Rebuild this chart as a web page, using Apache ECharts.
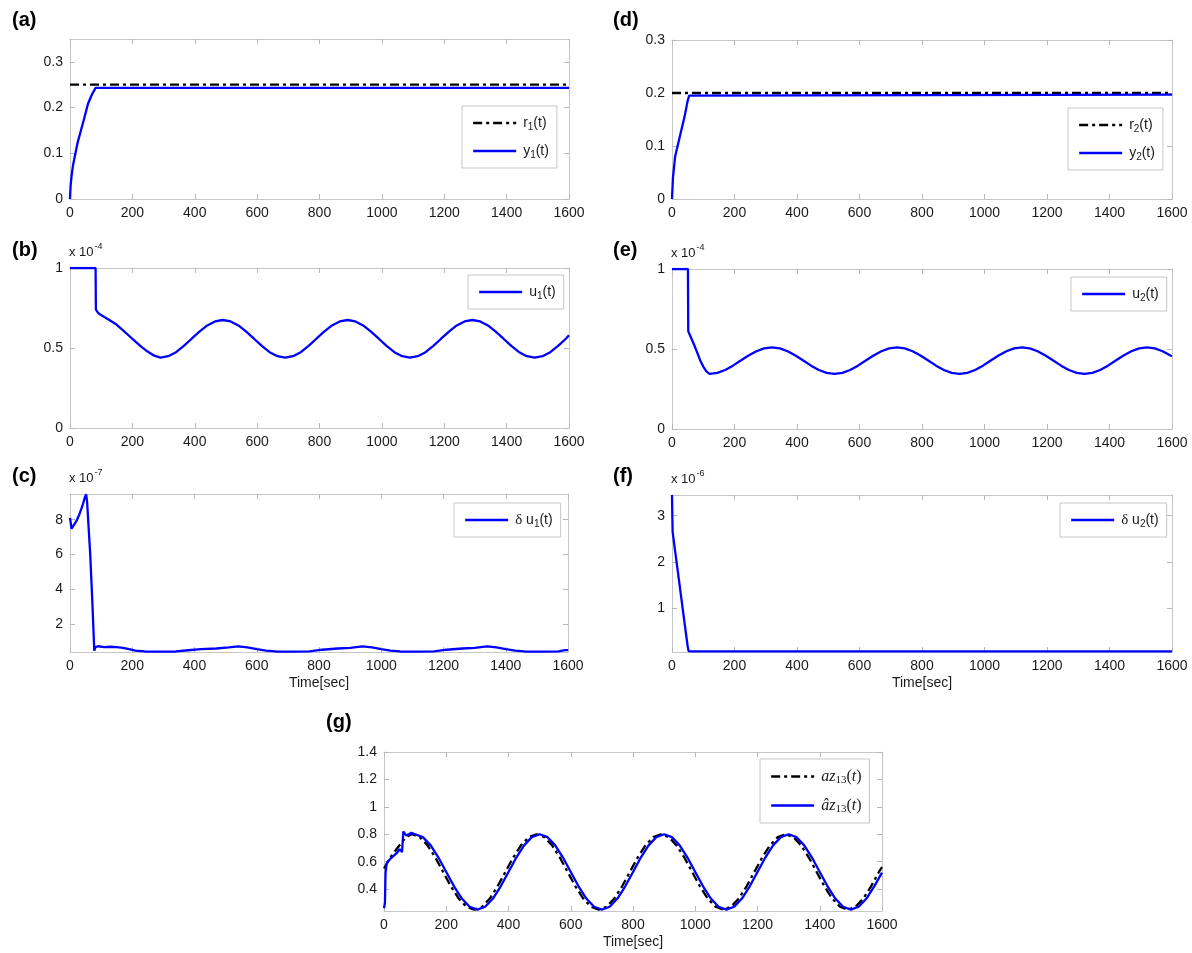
<!DOCTYPE html>
<html>
<head>
<meta charset="utf-8">
<script src="https://cdn.jsdelivr.net/npm/echarts@6/dist/echarts.min.js"></script>
<style>
  html, body { margin: 0; padding: 0; background: #fff; }
  #main { width: 1192px; height: 953px; }
</style>
</head>
<body>
<div id="main"></div>
<script>
// ---- data (time in sec) ----
const xTicks = [0, 200, 400, 600, 800, 1000, 1200, 1400, 1600]

const r1 = [[0, 0.25], [1600, 0.25]]
const y1 = [[0, 0], [2, 0.03], [5, 0.05], [10, 0.075], [15, 0.092], [25, 0.125], [35, 0.15], [45, 0.175],
  [58, 0.209], [70, 0.228], [82, 0.243], [1600, 0.243]]

const r2 = [[0, 0.2], [1600, 0.2]]
const y2 = [[0, 0], [3, 0.04], [10, 0.08], [20, 0.105], [30, 0.13], [40, 0.155], [50, 0.185], [55, 0.195],
  [60, 0.197], [1600, 0.197]]

// x 10^-4
const u1 = [[0, 1], [82, 1], [83, 0.74], [92, 0.715], [110, 0.694], [130, 0.67], [150, 0.645], [170, 0.61],
  [190, 0.575], [210, 0.54], [230, 0.505], [250, 0.476], [270, 0.452], [290, 0.44],
  [315, 0.449], [340, 0.474], [365, 0.513], [390, 0.558], [415, 0.602], [440, 0.641], [465, 0.666], [490, 0.675],
  [515, 0.666], [540, 0.641], [565, 0.602], [590, 0.558], [615, 0.513], [640, 0.474], [665, 0.449], [690, 0.44],
  [715, 0.449], [740, 0.474], [765, 0.513], [790, 0.558], [815, 0.602], [840, 0.641], [865, 0.666], [890, 0.675],
  [915, 0.666], [940, 0.641], [965, 0.602], [990, 0.558], [1015, 0.513], [1040, 0.474], [1065, 0.449], [1090, 0.44],
  [1115, 0.449], [1140, 0.474], [1165, 0.513], [1190, 0.558], [1215, 0.602], [1240, 0.641], [1265, 0.666], [1290, 0.675],
  [1315, 0.666], [1340, 0.641], [1365, 0.602], [1390, 0.558], [1415, 0.513], [1440, 0.474], [1465, 0.449], [1490, 0.44],
  [1515, 0.449], [1540, 0.474], [1565, 0.513], [1590, 0.558], [1600, 0.58]]

// x 10^-4
const u2 = [[0, 1], [51, 1], [52, 0.61], [60, 0.575], [70, 0.53], [80, 0.48], [90, 0.43], [100, 0.39], [110, 0.36], [120, 0.345],
  [145, 0.351], [170, 0.369], [195, 0.396], [220, 0.428], [245, 0.459], [270, 0.486], [295, 0.504], [320, 0.51],
  [345, 0.504], [370, 0.486], [395, 0.459], [420, 0.428], [445, 0.396], [470, 0.369], [495, 0.351], [520, 0.345],
  [545, 0.351], [570, 0.369], [595, 0.396], [620, 0.428], [645, 0.459], [670, 0.486], [695, 0.504], [720, 0.51],
  [745, 0.504], [770, 0.486], [795, 0.459], [820, 0.428], [845, 0.396], [870, 0.369], [895, 0.351], [920, 0.345],
  [945, 0.351], [970, 0.369], [995, 0.396], [1020, 0.428], [1045, 0.459], [1070, 0.486], [1095, 0.504], [1120, 0.51],
  [1145, 0.504], [1170, 0.486], [1195, 0.459], [1220, 0.428], [1245, 0.396], [1270, 0.369], [1295, 0.351], [1320, 0.345],
  [1345, 0.351], [1370, 0.369], [1395, 0.396], [1420, 0.428], [1445, 0.459], [1470, 0.486], [1495, 0.504], [1520, 0.51],
  [1545, 0.504], [1570, 0.486], [1595, 0.459], [1600, 0.455]]

// x 10^-7
const du1 = [[0, 8.1], [5, 7.48], [10, 7.55], [20, 7.9], [30, 8.3], [40, 8.8], [48, 9.3], [52, 9.45], [55, 9.0],
  [65, 6.0], [72, 3.2], [78, 0.5], [82, 0.7], [90, 0.75], [110, 0.7], [130, 0.72], [150, 0.7], [170, 0.65],
  [190, 0.58], [210, 0.5], [240, 0.45], [280, 0.44], [340, 0.45], [380, 0.52], [420, 0.58], [470, 0.62],
  [510, 0.68], [540, 0.74], [570, 0.68], [600, 0.58], [630, 0.5], [660, 0.45], [720, 0.44], [770, 0.46],
  [810, 0.55], [860, 0.62], [900, 0.66], [940, 0.74], [970, 0.68], [1000, 0.58], [1030, 0.5], [1060, 0.45],
  [1120, 0.44], [1170, 0.46], [1210, 0.55], [1260, 0.62], [1300, 0.66], [1340, 0.74], [1370, 0.68], [1400, 0.58],
  [1430, 0.5], [1460, 0.45], [1520, 0.44], [1570, 0.46], [1590, 0.53], [1600, 0.53]]

// x 10^-6
const du2 = [[0, 3.45], [1, 3.0], [2, 2.65], [10, 2.23], [20, 1.72], [30, 1.2], [40, 0.68], [50, 0.17], [53, 0.06],
  [60, 0.055], [1600, 0.055]]

const az13 = [[0, 0.55], [10, 0.59], [20, 0.63], [30, 0.66], [40, 0.69], [50, 0.72], [60, 0.75], [70, 0.775], [80, 0.79], [90, 0.8],
  [115, 0.779], [140, 0.719], [165, 0.63], [190, 0.525], [215, 0.42], [240, 0.331], [265, 0.271], [290, 0.25],
  [315, 0.271], [340, 0.331], [365, 0.42], [390, 0.525], [415, 0.63], [440, 0.719], [465, 0.779], [490, 0.8],
  [515, 0.779], [540, 0.719], [565, 0.63], [590, 0.525], [615, 0.42], [640, 0.331], [665, 0.271], [690, 0.25],
  [715, 0.271], [740, 0.331], [765, 0.42], [790, 0.525], [815, 0.63], [840, 0.719], [865, 0.779], [890, 0.8],
  [915, 0.779], [940, 0.719], [965, 0.63], [990, 0.525], [1015, 0.42], [1040, 0.331], [1065, 0.271], [1090, 0.25],
  [1115, 0.271], [1140, 0.331], [1165, 0.42], [1190, 0.525], [1215, 0.63], [1240, 0.719], [1265, 0.779], [1290, 0.8],
  [1315, 0.779], [1340, 0.719], [1365, 0.63], [1390, 0.525], [1415, 0.42], [1440, 0.331], [1465, 0.271], [1490, 0.25],
  [1515, 0.271], [1540, 0.331], [1565, 0.42], [1590, 0.525], [1600, 0.56]]

const az13Hat = [[0, 0.26], [3, 0.3], [5, 0.52], [8, 0.58], [12, 0.6], [20, 0.62], [30, 0.64], [40, 0.66], [50, 0.69],
  [56, 0.7], [58, 0.67], [62, 0.82], [67, 0.815], [72, 0.79], [78, 0.8], [88, 0.81], [100, 0.8],
  [125, 0.779], [150, 0.719], [175, 0.63], [200, 0.525], [225, 0.42], [250, 0.331], [275, 0.271], [300, 0.25],
  [325, 0.271], [350, 0.331], [375, 0.42], [400, 0.525], [425, 0.63], [450, 0.719], [475, 0.779], [500, 0.8],
  [525, 0.779], [550, 0.719], [575, 0.63], [600, 0.525], [625, 0.42], [650, 0.331], [675, 0.271], [700, 0.25],
  [725, 0.271], [750, 0.331], [775, 0.42], [800, 0.525], [825, 0.63], [850, 0.719], [875, 0.779], [900, 0.8],
  [925, 0.779], [950, 0.719], [975, 0.63], [1000, 0.525], [1025, 0.42], [1050, 0.331], [1075, 0.271], [1100, 0.25],
  [1125, 0.271], [1150, 0.331], [1175, 0.42], [1200, 0.525], [1225, 0.63], [1250, 0.719], [1275, 0.779], [1300, 0.8],
  [1325, 0.779], [1350, 0.719], [1375, 0.63], [1400, 0.525], [1425, 0.42], [1450, 0.331], [1475, 0.271], [1500, 0.25],
  [1525, 0.271], [1550, 0.331], [1575, 0.42], [1600, 0.52]]

// y tick labels per panel
const yTicksA = [0, 0.1, 0.2, 0.3]
const yTicksB = [0, 0.5, 1]
const yTicksC = [2, 4, 6, 8]
const yTicksD = [0, 0.1, 0.2, 0.3]
const yTicksE = [0, 0.5, 1]
const yTicksF = [1, 2, 3]
const yTicksG = [0.4, 0.6, 0.8, 1, 1.2, 1.4]

// ---- layout ----
const FONT = '"Liberation Sans", Arial, Helvetica, sans-serif'
const SERIF = '"Liberation Serif", "DejaVu Serif", serif'
const BORDER = '#c6c6c6'
const BLUE = '#0000ff'
const DASHDOT = [9, 4, 3, 4]

const panels = [
  { label: '(a)', lx: 12, ly: 10, grid: { left: 70, top: 39, width: 499, height: 160 }, yMin: 0, yMax: 0.35, ticks: yTicksA },
  { label: '(b)', lx: 12, ly: 240, grid: { left: 70, top: 268, width: 499, height: 160 }, yMin: 0, yMax: 1, ticks: yTicksB, mult: '-4' },
  { label: '(c)', lx: 12, ly: 466, grid: { left: 70, top: 494, width: 498, height: 158 }, yMin: 0.42, yMax: 9.47, ticks: yTicksC, mult: '-7', time: true },
  { label: '(d)', lx: 613, ly: 10, grid: { left: 672, top: 40, width: 500, height: 159 }, yMin: 0, yMax: 0.3, ticks: yTicksD },
  { label: '(e)', lx: 613, ly: 240, grid: { left: 672, top: 269, width: 500, height: 160 }, yMin: 0, yMax: 1, ticks: yTicksE, mult: '-4' },
  { label: '(f)', lx: 613, ly: 466, grid: { left: 672, top: 495, width: 500, height: 157 }, yMin: 0.04, yMax: 3.45, ticks: yTicksF, mult: '-6', time: true },
  { label: '(g)', lx: 326, ly: 712, grid: { left: 384, top: 752, width: 498, height: 159 }, yMin: 0.24, yMax: 1.4, ticks: yTicksG, time: true }
]

const grids = []
const xAxes = []
const yAxes = []
const titles = []

const tickStyle = { show: true, inside: true, length: 5, lineStyle: { color: '#b8b8b8', width: 1 } }
const lineStyle = { show: true, onZero: false, lineStyle: { color: BORDER, width: 1 } }
const labelStyle = { fontFamily: FONT, fontSize: 14, color: '#1a1a1a', formatter: (v) => String(v) }

panels.forEach((p, i) => {
  grids.push(Object.assign({ containLabel: false }, p.grid))
  // bottom + top x axis
  xAxes.push({
    type: 'value', gridIndex: i, min: 0, max: 1600, interval: 200, position: 'bottom',
    axisLine: lineStyle, axisTick: tickStyle, splitLine: { show: false },
    axisLabel: Object.assign({ margin: 7, customValues: xTicks }, labelStyle),
    name: p.time ? 'Time[sec]' : '', nameLocation: 'middle', nameGap: 24,
    nameTextStyle: { fontFamily: FONT, fontSize: 14, color: '#1a1a1a' }
  })
  xAxes.push({
    type: 'value', gridIndex: i, min: 0, max: 1600, interval: 200, position: 'top',
    axisLine: lineStyle, axisTick: tickStyle, splitLine: { show: false }, axisLabel: { show: false }
  })
  // left + right y axis
  yAxes.push({
    type: 'value', gridIndex: i, min: p.yMin, max: p.yMax, position: 'left',
    axisLine: lineStyle, splitLine: { show: false },
    axisTick: Object.assign({ customValues: p.ticks }, tickStyle),
    axisLabel: Object.assign({ customValues: p.ticks, margin: 7 }, labelStyle)
  })
  yAxes.push({
    type: 'value', gridIndex: i, min: p.yMin, max: p.yMax, position: 'right',
    axisLine: lineStyle, splitLine: { show: false },
    axisTick: Object.assign({ customValues: p.ticks }, tickStyle),
    axisLabel: { show: false }
  })
  titles.push({
    text: p.label, left: p.lx, top: p.ly, padding: 0,
    textStyle: { fontFamily: FONT, fontSize: 20, fontWeight: 'bold', color: '#000' }
  })
  if (p.mult) {
    titles.push({
      text: '{a|x 10}{e|' + p.mult + '}', left: p.grid.left - 1, top: p.grid.top - 22, padding: 0,
      textStyle: {
        fontWeight: 'normal',
        rich: {
          a: { fontFamily: FONT, fontSize: 13, fontWeight: 'normal', color: '#1a1a1a', lineHeight: 13 },
          e: { fontFamily: FONT, fontSize: 9, fontWeight: 'normal', color: '#1a1a1a', lineHeight: 9, padding: [0, 0, 12, 1] }
        }
      }
    })
  }
})

function mkSeries(name, idx, data, color, dash) {
  return {
    name: name, type: 'line', xAxisIndex: idx * 2, yAxisIndex: idx * 2, data: data,
    symbol: 'none', showSymbol: false, smooth: false, color: color,
    lineStyle: { color: color, width: 2.3, type: dash || 'solid' }
  }
}

const series = [
  mkSeries('r1', 0, r1, '#000', DASHDOT),
  mkSeries('y1', 0, y1, BLUE),
  mkSeries('u1', 1, u1, BLUE),
  mkSeries('du1', 2, du1, BLUE),
  mkSeries('r2', 3, r2, '#000', DASHDOT),
  mkSeries('y2', 3, y2, BLUE),
  mkSeries('u2', 4, u2, BLUE),
  mkSeries('du2', 5, du2, BLUE),
  mkSeries('az13', 6, az13, '#000', DASHDOT),
  mkSeries('az13hat', 6, az13Hat, BLUE)
]

const legendText = {
  r1: '{n|r}{s|1}{n|(t)}',
  y1: '{n|y}{s|1}{n|(t)}',
  u1: '{n|u}{s|1}{n|(t)}',
  du1: '{g|δ}{n| u}{s|1}{n|(t)}',
  r2: '{n|r}{s|2}{n|(t)}',
  y2: '{n|y}{s|2}{n|(t)}',
  u2: '{n|u}{s|2}{n|(t)}',
  du2: '{g|δ}{n| u}{s|2}{n|(t)}',
  az13: '{m|az}{k|13}{p|(}{m|t}{p|)}',
  az13hat: '{m|âz}{k|13}{p|(}{m|t}{p|)}'
}

const legendRich = {
  n: { fontFamily: FONT, fontSize: 14, color: '#1a1a1a', lineHeight: 16 },
  s: { fontFamily: FONT, fontSize: 10, color: '#1a1a1a', lineHeight: 10, padding: [8, 0, 0, 0] },
  g: { fontFamily: SERIF, fontSize: 15, color: '#1a1a1a', lineHeight: 16 },
  m: { fontFamily: SERIF, fontStyle: 'italic', fontSize: 16, color: '#1a1a1a', lineHeight: 16 },
  k: { fontFamily: SERIF, fontSize: 11, color: '#1a1a1a', lineHeight: 11, padding: [8, 0, 0, 0] },
  p: { fontFamily: SERIF, fontSize: 16, color: '#1a1a1a', lineHeight: 16 }
}

function mkLegend(names, left, top) {
  return {
    data: names,
    orient: 'vertical', left: left, top: top,
    padding: [8, 8, 8, 10], itemGap: 10, itemWidth: 43, itemHeight: 14,
    borderColor: BORDER, borderWidth: 1, borderRadius: 0, backgroundColor: '#fff',
    selectedMode: false,
    // hide the marker drawn in the middle of the line sample, keep the line itself
    itemStyle: { opacity: 0 },
    lineStyle: { width: 2.3 },
    formatter: (name) => legendText[name],
    textStyle: { rich: legendRich, padding: [0, 0, 0, 2] }
  }
}

const legends = [
  mkLegend(['r1', 'y1'], 462, 106),
  mkLegend(['u1'], 468, 275),
  mkLegend(['du1'], 454, 503),
  mkLegend(['r2', 'y2'], 1068, 108),
  mkLegend(['u2'], 1071, 277),
  mkLegend(['du2'], 1060, 503),
  mkLegend(['az13', 'az13hat'], 760, 759)
]

const chart = echarts.init(document.getElementById('main'), null, { renderer: 'canvas' })
chart.setOption({
  animation: false,
  backgroundColor: '#fff',
  title: titles,
  grid: grids,
  xAxis: xAxes,
  yAxis: yAxes,
  legend: legends,
  series: series
})
</script>
</body>
</html>
